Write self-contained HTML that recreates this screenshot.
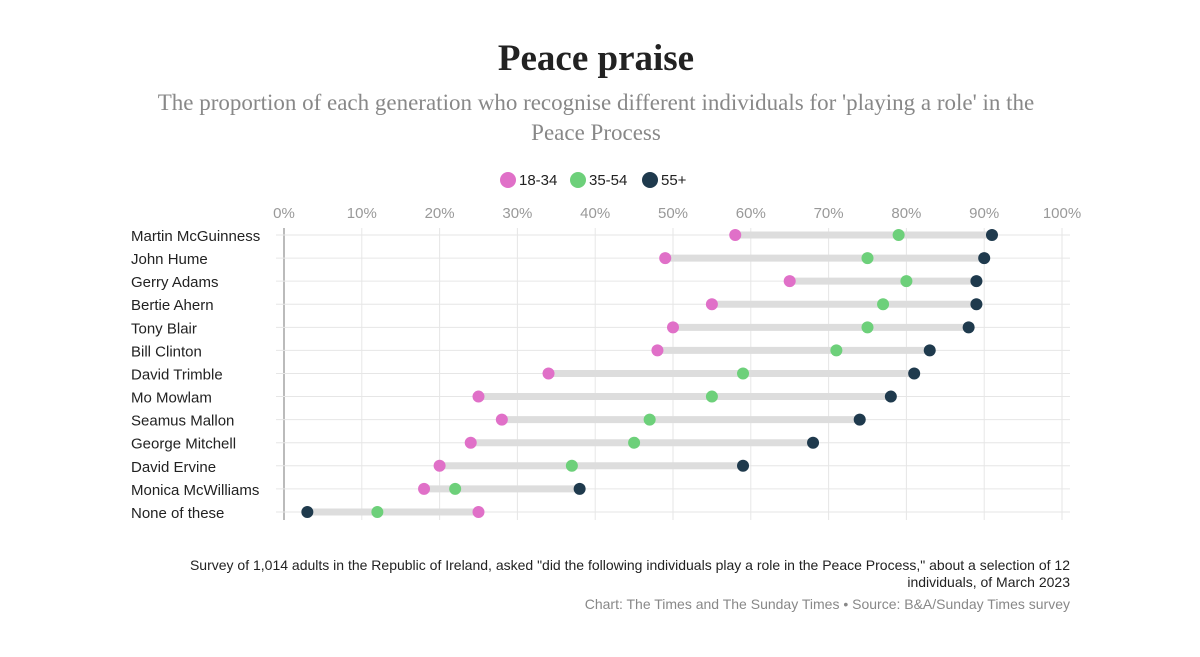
<!DOCTYPE html>
<html><head><meta charset="utf-8"><style>
body{margin:0;background:#fff;width:1200px;height:652px;overflow:hidden;font-family:"Liberation Sans",sans-serif}
</style></head><body>
<svg width="1200" height="652">
<text x="596" y="70" text-anchor="middle" font-family="Liberation Serif,serif" font-weight="bold" font-size="37" fill="#222">Peace praise</text>
<text x="596" y="110" text-anchor="middle" font-family="Liberation Serif,serif" font-size="23" fill="#888">The proportion of each generation who recognise different individuals for 'playing a role' in the</text>
<text x="596" y="140" text-anchor="middle" font-family="Liberation Serif,serif" font-size="23" fill="#888">Peace Process</text>
<g id="legend"></g>
<g id="grid"></g>
<g id="marks"></g>
<text x="1070" y="570" text-anchor="end" font-size="14" fill="#222">Survey of 1,014 adults in the Republic of Ireland, asked "did the following individuals play a role in the Peace Process," about a selection of 12</text>
<text x="1070" y="587" text-anchor="end" font-size="14" fill="#222">individuals, of March 2023</text>
<text x="1070" y="609" text-anchor="end" font-size="14" fill="#888">Chart: The Times and The Sunday Times • Source: B&amp;A/Sunday Times survey</text>
</svg>
<script>
const names=["Martin McGuinness","John Hume","Gerry Adams","Bertie Ahern","Tony Blair","Bill Clinton","David Trimble","Mo Mowlam","Seamus Mallon","George Mitchell","David Ervine","Monica McWilliams","None of these"];
const young=[58,49,65,55,50,48,34,25,28,24,20,18,25];
const mid=[79,75,80,77,75,71,59,55,47,45,37,22,12];
const old=[91,90,89,89,88,83,81,78,74,68,59,38,3];
const ticks=[0,10,20,30,40,50,60,70,80,90,100];
const seriesNames=["18-34","35-54","55+"];
const colors=["#e070c8","#6dd07a","#1f3a4d"];
const NS="http://www.w3.org/2000/svg";
const x=v=>284+v*7.78;
const y=i=>235+i*23.08;
function mk(tag,attrs,parent,txt){const e=document.createElementNS(NS,tag);for(const k in attrs)e.setAttribute(k,attrs[k]);if(txt!==undefined)e.textContent=txt;parent.appendChild(e);return e;}
const grid=document.getElementById('grid'),marks=document.getElementById('marks'),legend=document.getElementById('legend');
ticks.forEach(t=>{
 const l=mk('line',{x1:x(t),x2:x(t),y1:228,y2:520,stroke:t==0?'#bbb':'#e6e6e6','stroke-width':t==0?2:1},grid);
 
 
 const tx=mk('text',{x:x(t),y:218,'text-anchor':'middle','font-size':15,fill:'#999'},grid,t+'%');
 
 
});
names.forEach((n,i)=>{
 const g=mk('line',{x1:276,x2:1070,y1:y(i),y2:y(i),stroke:'#e6e6e6','stroke-width':1},grid);
 
 
 const lab=mk('text',{x:131,y:y(i)+6,'font-size':15,fill:'#222'},grid,n);
 
 
 const vals=[young[i],mid[i],old[i]];
 const b=mk('line',{x1:x(Math.min(...vals)),x2:x(Math.max(...vals)),y1:y(i),y2:y(i),stroke:'#ddd','stroke-width':7},marks);
 
 
 vals.forEach((v,k)=>{
  const c=mk('circle',{cx:x(v),cy:y(i),r:6,fill:colors[k]},marks);
  
  
 });
});
const lx=[508,578,650];
seriesNames.forEach((s,k)=>{
 const c=mk('circle',{cx:lx[k],cy:180,r:8,fill:colors[k]},legend);
 
 
 const t=mk('text',{x:lx[k]+11,y:185,'font-size':15,fill:'#222'},legend,s);
 
 
});
</script>
</body></html>
